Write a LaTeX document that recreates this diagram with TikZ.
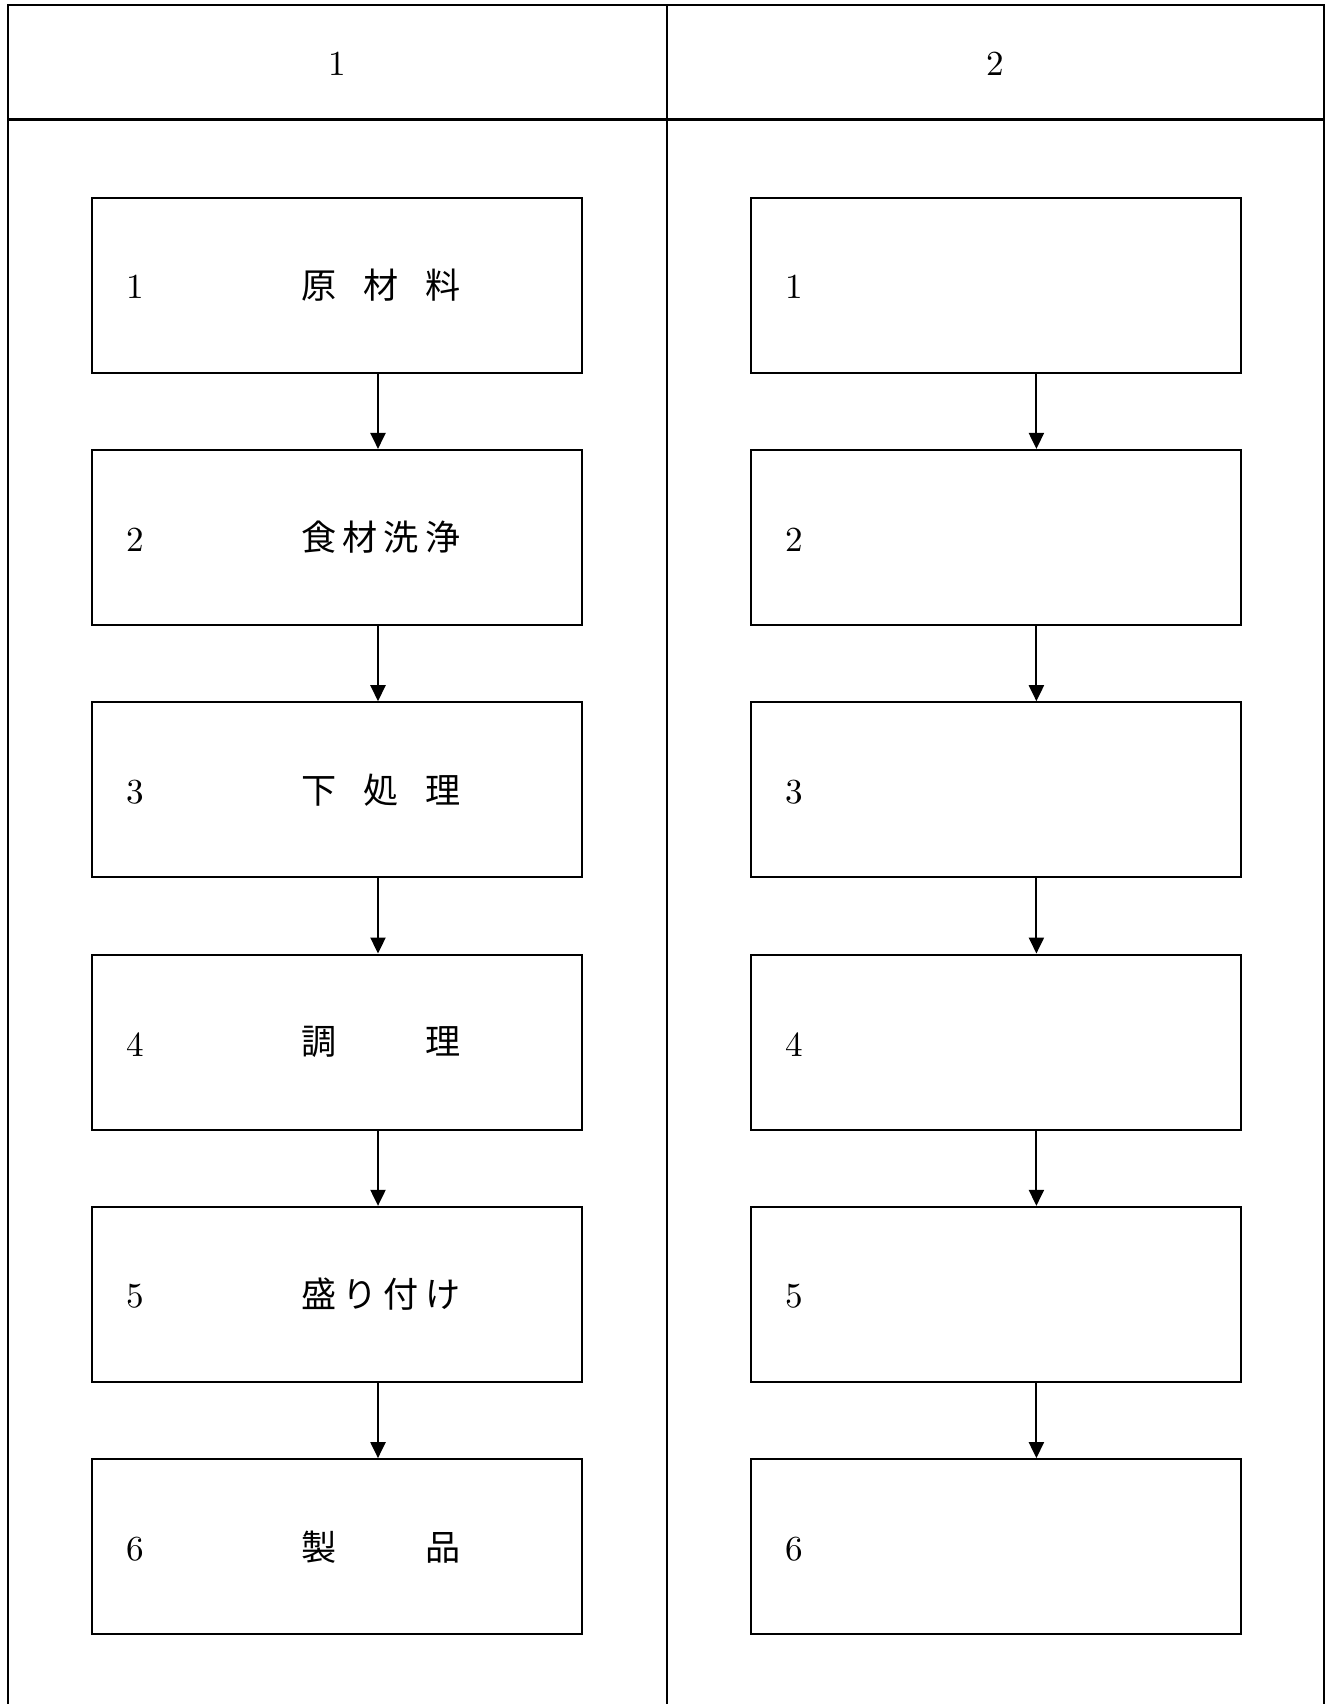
\documentclass[tikz,border=0pt]{standalone}
\usepackage{fontspec}
\newfontfamily\jp{Noto Sans CJK JP}
\usetikzlibrary{arrows.meta}

\begin{document}
\begin{tikzpicture}[line width=0.6pt,
  stage/.style={draw,minimum width=4.9cm,minimum height=1.75cm,inner sep=0pt},
  flow/.style={-{Triangle[width=1.5mm,length=1.6mm]}}]
\path[use as bounding box] (0,0) rectangle (13.33,-17.04);
% table frame
\draw (0.076,-17.04) -- (0.076,-0.054) -- (13.24,-0.054) -- (13.24,-17.04);
\draw (6.67,-0.054) -- (6.67,-17.04);
\draw (0.076,-1.195) -- (13.24,-1.195);
\node (head1) at (3.368,-0.64) {1};
\node (head2) at (9.95,-0.64) {2};

\foreach \i/\txt in {1/原\hfill 材\hfill 料,2/食\hfill 材\hfill 洗\hfill 浄,3/下\hfill 処\hfill 理,
                     4/調\hfill 理,5/盛\hfill り\hfill 付\hfill け,6/製\hfill 品}{
  \node[stage] (L\i) at (3.373,{-2.852-2.523*(\i-1)}) {};
  \node[stage] (R\i) at (9.957,{-2.852-2.523*(\i-1)}) {};
  \node (numL\i) at ([xshift=4.45mm,yshift=-0.2mm]L\i.west) {\i};
  \node (numR\i) at ([xshift=4.45mm,yshift=-0.2mm]R\i.west) {\i};
  \node[anchor=west,inner sep=0pt] (txtL\i) at ([xshift=20.9mm]L\i.west) {\jp\makebox[1.59cm]{\txt}};
}
\foreach \i [evaluate=\i as \j using int(\i+1)] in {1,...,5}{
  \draw[flow] ([xshift=4.07mm]L\i.south) -- ([xshift=4.07mm]L\j.north);
  \draw[flow] ([xshift=4.07mm]R\i.south) -- ([xshift=4.07mm]R\j.north);
}
\end{tikzpicture}
\end{document}
